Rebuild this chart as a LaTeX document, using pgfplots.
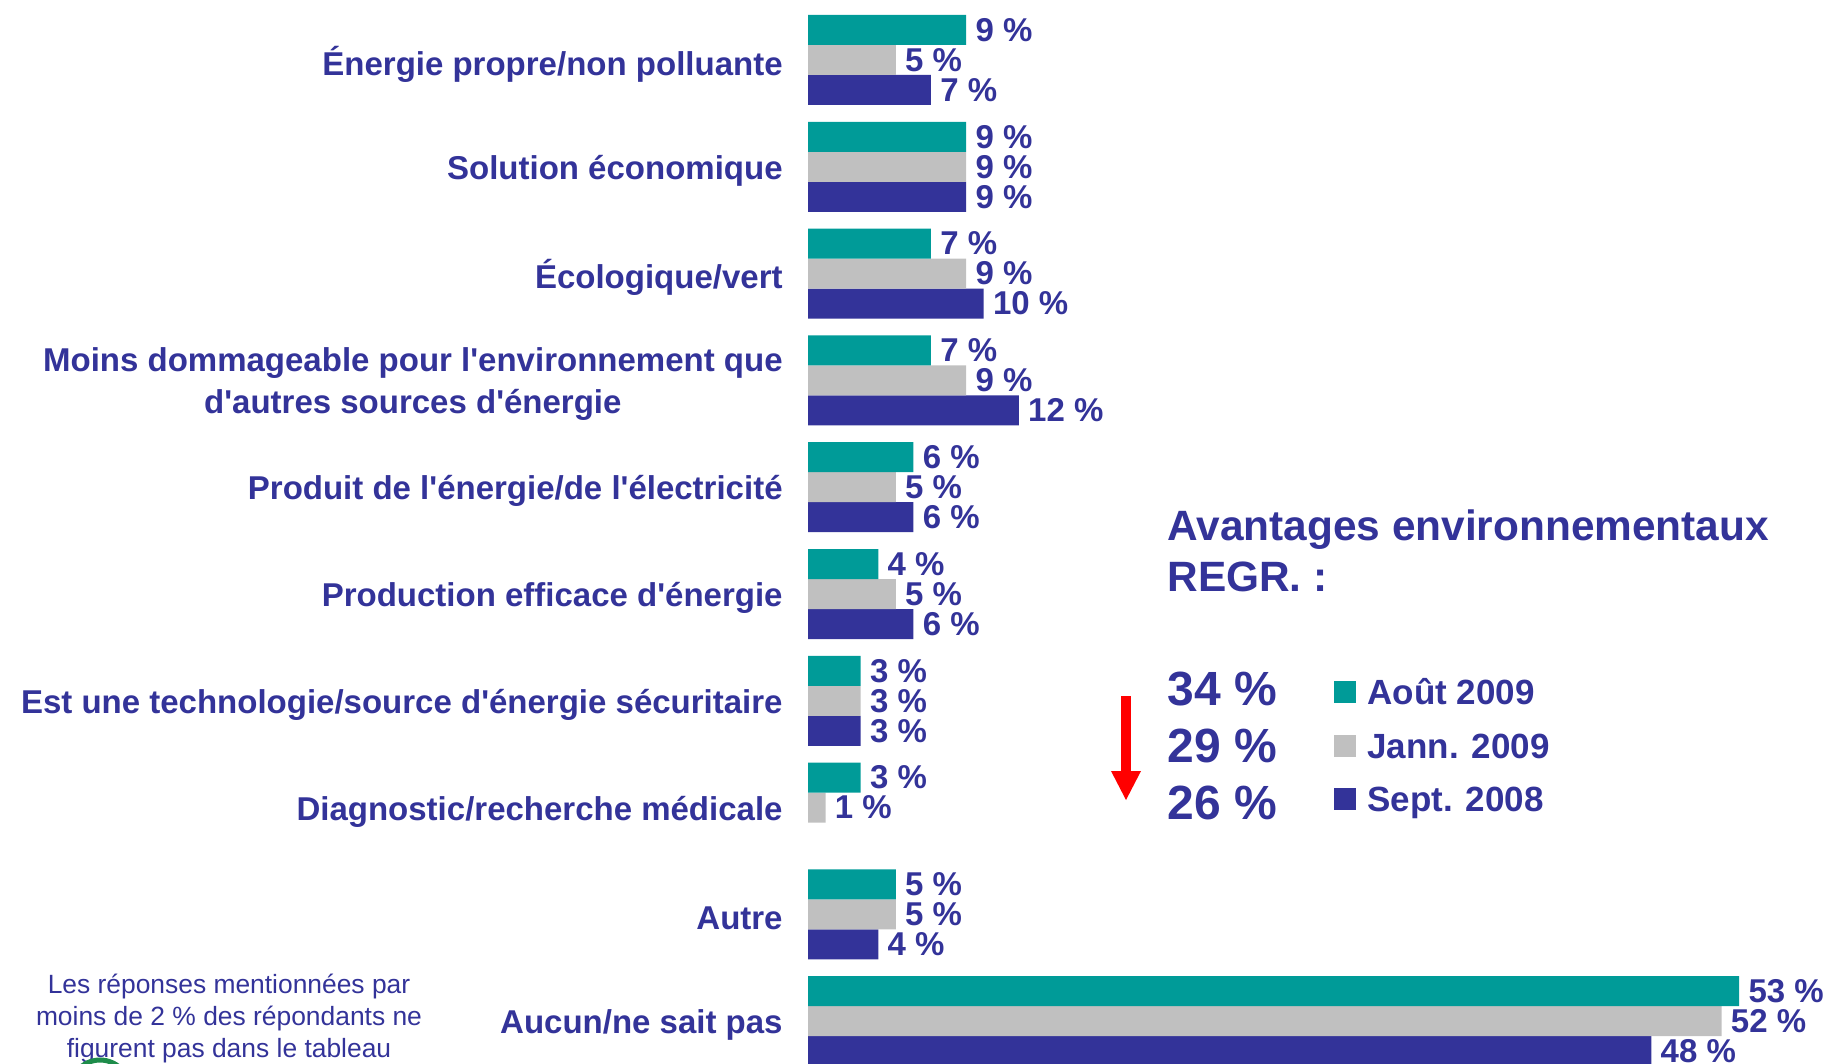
\documentclass[border=0pt]{standalone}
\usepackage{fontspec}
\setmainfont{Liberation Sans}
\usepackage{pgfplots}
\pgfplotsset{compat=1.18}
\usetikzlibrary{calc}
\definecolor{teal1}{HTML}{009B98}
\definecolor{gray1}{HTML}{C0C0C0}
\definecolor{navy1}{HTML}{333399}
\definecolor{txt}{HTML}{333399}
\definecolor{logogreen}{HTML}{1E8C4A}
\newcommand{\q}{\textquotesingle}
\begin{document}
\begin{tikzpicture}
\useasboundingbox (0,0) rectangle (912pt,-532pt);
\begin{axis}[
  at={(404pt,-3.3pt)}, anchor=north west,
  scale only axis, width=500.7pt, height=534pt,
  xmin=0, xmax=57, ymin=-0.5, ymax=9.5,
  xbar, bar width=15pt,
  axis x line=none, axis y line=left, y axis line style={draw=none},
  ytick={0,...,9}, major tick length=0pt,
  yticklabels={Aucun/ne sait pas, Autre, Diagnostic/recherche médicale,
    Est une technologie/source d\q énergie sécuritaire, Production efficace d\q énergie,
    Produit de l\q énergie/de l\q électricité,
    {Moins dommageable pour l\q environnement que\\d\q autres sources d\q énergie},
    Écologique/vert, Solution économique, Énergie propre/non polluante},
  yticklabel style={font=\fontsize{16.5}{21}\selectfont\bfseries, text=txt, align=center, inner sep=0pt, xshift=-12.5pt, yshift=-2pt},
  point meta=x,
  nodes near coords={\pgfmathprintnumber[assume math mode=true]{\pgfplotspointmeta}~\%},
  every node near coord/.append style={font=\fontsize{16.5}{20}\selectfont\bfseries, text=txt, anchor=west, inner sep=0pt, xshift=4.5pt},
  clip=false,
]
\addplot[fill=navy1, draw=none, bar shift=-15pt] coordinates {(48,0) (4,1) (3,3) (6,4) (6,5) (12,6) (10,7) (9,8) (7,9)};
\addplot[fill=gray1, draw=none, bar shift=0pt] coordinates {(52,0) (5,1) (1,2) (3,3) (5,4) (5,5) (9,6) (9,7) (9,8) (5,9)};
\addplot[fill=teal1, draw=none, bar shift=15pt] coordinates {(53,0) (5,1) (3,2) (3,3) (4,4) (6,5) (7,6) (7,7) (9,8) (9,9)};
\end{axis}
% title
\node[anchor=base west, font=\fontsize{21.2}{25.5}\selectfont\bfseries, text=txt, inner sep=0pt] at (583.5pt,-270.2pt) {Avantages environnementaux};
\node[anchor=base west, font=\fontsize{21.2}{25.5}\selectfont\bfseries, text=txt, inner sep=0pt] at (583.5pt,-295.7pt) {REGR. :};
% big percentages
\node[anchor=west, font=\fontsize{24}{28}\selectfont\bfseries, text=txt, inner sep=0pt] at (583.5pt,-344.5pt) {34 \%};
\node[anchor=west, font=\fontsize{24}{28}\selectfont\bfseries, text=txt, inner sep=0pt] at (583.5pt,-373pt) {29 \%};
\node[anchor=west, font=\fontsize{24}{28}\selectfont\bfseries, text=txt, inner sep=0pt] at (583.5pt,-401.5pt) {26 \%};
% legend
\fill[teal1] (667pt,-351.5pt) rectangle ++(11pt,11pt);
\fill[gray1] (667pt,-378.5pt) rectangle ++(11pt,11pt);
\fill[navy1] (667pt,-405pt) rectangle ++(11pt,11pt);
\node[anchor=base west, font=\fontsize{17.5}{20}\selectfont\bfseries, text=txt, inner sep=0pt] at (683.5pt,-352.3pt) {Août 2009};
\node[anchor=base west, font=\fontsize{17.5}{20}\selectfont\bfseries, text=txt, inner sep=0pt] at (683.5pt,-379.3pt) {Jann. 2009};
\node[anchor=base west, font=\fontsize{17.5}{20}\selectfont\bfseries, text=txt, inner sep=0pt] at (683.5pt,-405.8pt) {Sept. 2008};
% red arrow
\fill[red] (560.5pt,-348pt) rectangle (565.5pt,-385.5pt);
\fill[red] (555.5pt,-385.5pt) -- (570.5pt,-385.5pt) -- (563pt,-400pt) -- cycle;
% footnote
\node[align=center, font=\fontsize{13.2}{16}\selectfont, text=txt, inner sep=0pt] at (114.5pt,-509.3pt) {Les réponses mentionnées par\\moins de 2 \% des répondants ne\\figurent pas dans le tableau};
% logo sliver
\draw[logogreen, line width=2.5pt] ($(50pt,-545pt)+(150:15pt)$) arc (150:40:15pt);
\end{tikzpicture}
\end{document}
